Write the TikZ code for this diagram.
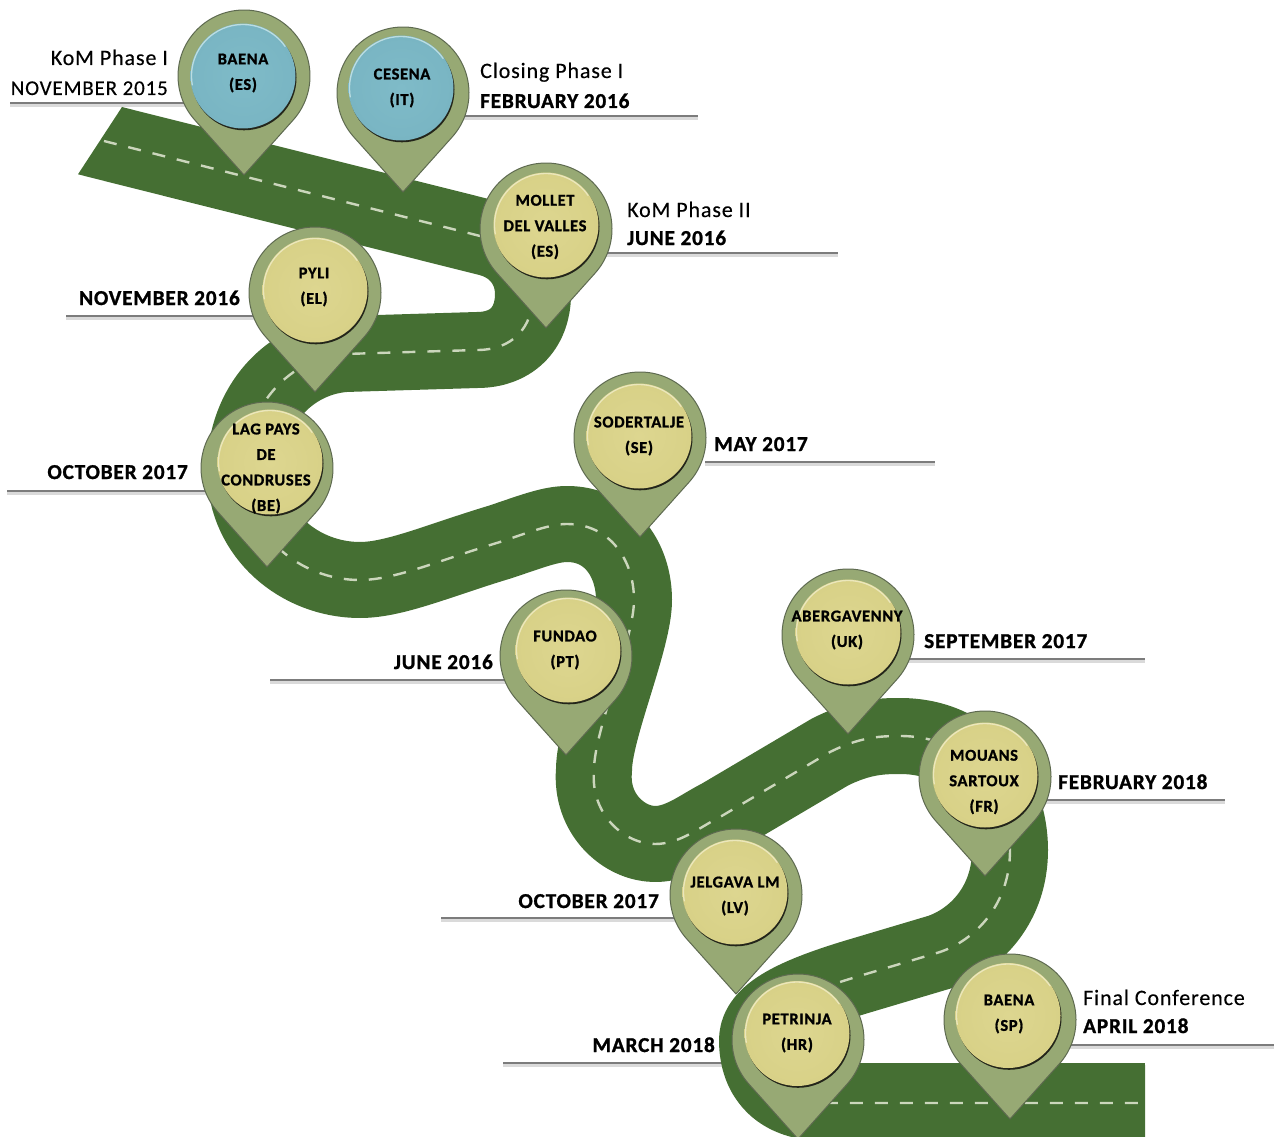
\documentclass[tikz,border=0pt]{standalone}
\usepackage{fontspec}
\setmainfont{Carlito}[LetterSpace=4,FakeBold=0.3,BoldFeatures={FakeBold=1.2}]
\usetikzlibrary{calc}
\definecolor{roadg}{HTML}{456F33}
\definecolor{dashc}{HTML}{CBD6BC}
\definecolor{pinc}{HTML}{97A974}
\definecolor{pinedge}{HTML}{5E6A50}
\definecolor{sandin}{HTML}{DDD690}
\definecolor{sandout}{HTML}{D8D187}
\definecolor{sandlight}{HTML}{EBE7BC}
\definecolor{tealin}{HTML}{7FBBC8}
\definecolor{tealout}{HTML}{79B5C3}
\definecolor{teallight}{HTML}{BBDDE2}
\definecolor{rimdark}{HTML}{23251A}
\definecolor{lead}{HTML}{7C7C7C}
\definecolor{leadsh}{HTML}{DADADA}
\tikzset{
  x=1pt,y=-1pt,
  pinbody/.style={fill=pinc,draw=pinedge,line width=1pt,line join=round},
  pintext/.style={font=\fontsize{16.5}{25.5}\selectfont\bfseries,text=black,align=center,inner sep=0pt},
  labreg/.style={font=\fontsize{22}{22}\selectfont,text=black,inner sep=0pt},
  labbold/.style={font=\fontsize{21.2}{21.2}\selectfont\bfseries,text=black,inner sep=0pt},
  leadline/.style={draw=lead,line width=1.4pt},
  leadshadow/.style={draw=leadsh,line width=3pt},
}
% name, cx, cy, disk dx, disk dy (up), scheme, text y, text
\newcommand{\mypin}[8]{%
  \begin{scope}[shift={(#2,#3)},y=1pt]
    \draw[pinbody] (0,-99) -- (-41.8:66) arc[start angle=-41.8,end angle=221.8,radius=66] -- cycle;
    \fill[rimdark] ({#4+1},{#5-1.8}) circle[radius=52.5];
    \shade[inner color=#6in,outer color=#6out] (#4,#5) circle[radius=52.5];
    \draw[#6light,line width=1.3pt,line cap=round] (#4,#5) ++(35:51.5) arc[start angle=35,end angle=190,radius=51.5];
  \end{scope}
  \node[pintext] (#1) at (#2-1,#7) {#8};
}
\newcommand{\leader}[3]{%
  \draw[leadshadow] (#1,#3+2.5) -- (#2,#3+2.5);
  \draw[leadline] (#1,#3) -- (#2,#3);
}
\def\roadrest{-- (490,238.5) .. controls (517,246) and (533,268) .. (533,294)
  .. controls (533,328) and (512,350) .. (477,350) -- (345,354)
  .. controls (290,358) and (245,405) .. (245,470)
  .. controls (245,535) and (300,580) .. (360,580)
  .. controls (395,580) and (440,560) .. (500,542)
  .. controls (530,532) and (550,524) .. (567,524)
  .. controls (610,524) and (634,560) .. (634,600)
  .. controls (634,640) and (594,730) .. (594,770)
  .. controls (590,815) and (625,844) .. (655,844)
  .. controls (680,844) and (700,827) .. (720,817) -- (830,752)
  .. controls (860,737) and (880,736) .. (900,736)
  .. controls (970,736) and (1010,790) .. (1010,850)
  .. controls (1010,905) and (975,940) .. (940,952) -- (856,977)
  .. controls (790,997) and (757,1015) .. (757,1040)
  .. controls (757,1078) and (780,1103) .. (825,1103) -- (1145,1103)}
\begin{document}
\begin{tikzpicture}
\useasboundingbox (0,0) rectangle (1274,1137);
\clip (0,0) rectangle (1274,1137);
% leader lines
\leader{10}{190}{103}
\leader{462}{698}{116}
\leader{605}{838}{253}
\leader{66}{255}{316}
\leader{7}{207}{491}
\leader{705}{935}{462}
\leader{270}{510}{680}
\leader{905}{1145}{659}
\leader{1045}{1225}{800}
\leader{441}{680}{918}
\leader{503}{735}{1063}
\leader{1068}{1274}{1045}
% road
\draw[roadg,line width=76pt,line join=round] (112.7,143.9) \roadrest;
\fill[roadg] (122,107) -- (78,174.3) -- (103.4,180.7) -- (150,125) -- cycle;
\fill[roadg] (825,1063) rectangle (1145,1137);
\draw[dashc,line width=2.4pt,dash pattern=on 13pt off 12pt] (104,141) \roadrest;
% pins
\mypin{baena}{244}{76}{-1}{0}{teal}{73}{BAENA\\(ES)}
\mypin{cesena}{403}{93}{-2}{5}{teal}{88}{CESENA\\(IT)}
\mypin{mollet}{546}{229}{0}{4}{sand}{227}{MOLLET\\DEL VALLES\\(ES)}
\mypin{pyli}{315}{293}{0}{3}{sand}{287}{PYLI\\(EL)}
\mypin{lag}{267}{468}{3}{6}{sand}{468.5}{LAG PAYS\\DE\\CONDRUSES\\(BE)}
\mypin{soder}{640}{438}{-1}{2}{sand}{436}{SODERTALJE\\(SE)}
\mypin{fundao}{566}{656}{2}{6}{sand}{650}{FUNDAO\\(PT)}
\mypin{aberg}{848}{635}{0}{3}{sand}{630}{ABERGAVENNY\\(UK)}
\mypin{mouans}{985}{777}{0}{2}{sand}{782}{MOUANS\\SARTOUX\\(FR)}
\mypin{jelgava}{736}{895}{-1}{3}{sand}{896}{JELGAVA LM\\(LV)}
\mypin{petrinja}{798}{1040}{-1}{6.5}{sand}{1033}{PETRINJA\\(HR)}
\mypin{baenasp}{1010}{1020}{-2}{4.5}{sand}{1014}{BAENA\\(SP)}
% labels
\node[labreg,anchor=base east] (l1) at (168,65) {KoM Phase I};
\node[labreg,anchor=base east,font=\fontsize{21}{21}\selectfont] (l2) at (168,95) {NOVEMBER 2015};
\node[labreg,anchor=base west] (l3) at (480,78) {Closing Phase I};
\node[labbold,anchor=base west] (l4) at (480,108) {FEBRUARY 2016};
\node[labreg,anchor=base west] (l5) at (627,217) {KoM Phase II};
\node[labbold,anchor=base west] (l6) at (627,245) {JUNE 2016};
\node[labbold,anchor=base east] (l7) at (240,305) {NOVEMBER 2016};
\node[labbold,anchor=base east] (l8) at (188,479) {OCTOBER 2017};
\node[labbold,anchor=base west] (l9) at (714,451) {MAY 2017};
\node[labbold,anchor=base east] (l10) at (493,669) {JUNE 2016};
\node[labbold,anchor=base west] (l11) at (924,648) {SEPTEMBER 2017};
\node[labbold,anchor=base west] (l12) at (1058,789) {FEBRUARY 2018};
\node[labbold,anchor=base east] (l13) at (659,908) {OCTOBER 2017};
\node[labbold,anchor=base east] (l14) at (715,1052) {MARCH 2018};
\node[labreg,anchor=base west] (l15) at (1083,1005) {Final Conference};
\node[labbold,anchor=base west] (l16) at (1083,1033) {APRIL 2018};
\end{tikzpicture}
\end{document}
